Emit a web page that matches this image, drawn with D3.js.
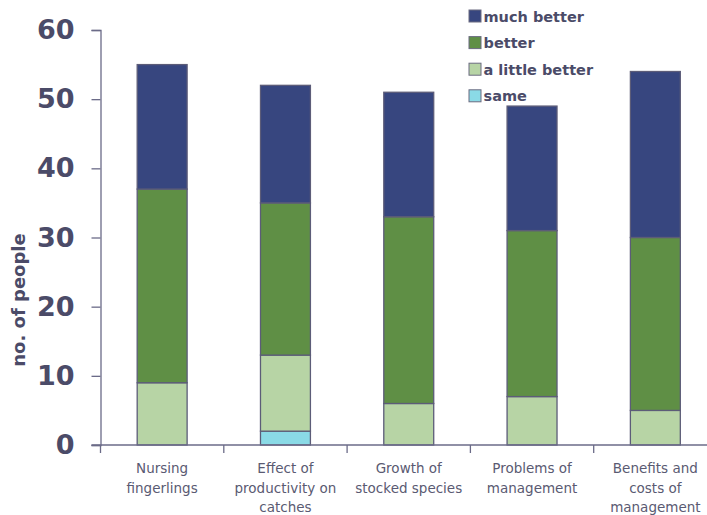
<!DOCTYPE html>
<html><head><meta charset="utf-8">
<script src="https://cdn.jsdelivr.net/npm/d3@7"></script>
<style>body{margin:0;background:#fff;}svg{display:block;}</style>
</head><body>
<svg id="c" width="707" height="515"></svg>
<script>
const categories = [["Nursing","fingerlings"],["Effect of","productivity on","catches"],["Growth of","stocked species"],["Problems of","management"],["Benefits and","costs of","management"]];
const seriesNames = ["same","a little better","better","much better"];
const same = [0, 2, 0, 0, 0];
const littleBetter = [9, 11, 6, 7, 5];
const better = [28, 22, 27, 24, 25];
const muchBetter = [18, 17, 18, 18, 24];
const yTicks = [0,10,20,30,40,50,60];
const colors = {"same":"#8adae6","a little better":"#b7d4a5","better":"#5f8f45","much better":"#37467f"};

(function(){
const svg = d3.select("#c");
const mL = 100.5, mR = 717, mT = 30, mB = 445;
const x = d3.scaleBand().domain(d3.range(categories.length)).range([mL, mR]).padding(0);
const y = d3.scaleLinear().domain([0,60]).range([mB, mT]);
const axisCol = "#6b6b88", textCol = "#4b4b68";

const rows = categories.map((c,i)=>({i, "same":same[i], "a little better":littleBetter[i], "better":better[i], "much better":muchBetter[i]}));
const stack = d3.stack().keys(seriesNames)(rows);
const bw = x.bandwidth()*0.405;

svg.append("g").selectAll("g").data(stack).join("g")
  .attr("fill", d=>colors[d.key])
  .selectAll("rect").data(d=>d.filter(p=>p[1]-p[0]>0)).join("rect")
  .attr("x", d=>x(d.data.i)+x.bandwidth()/2-bw/2)
  .attr("width", bw)
  .attr("y", d=>y(d[1]))
  .attr("height", d=>y(d[0])-y(d[1]))
  .attr("stroke","#5c5c78").attr("stroke-width",1.3);

// y axis
const ya = svg.append("g").attr("transform",`translate(${mL},0)`)
  .call(d3.axisLeft(y).tickValues(yTicks).tickSize(9).tickPadding(17));
ya.select(".domain").attr("stroke",axisCol).attr("stroke-width",1.3);
ya.selectAll(".tick line").attr("stroke",axisCol).attr("stroke-width",1.3);
ya.selectAll("text").attr("fill",textCol).style("font-family","DejaVu Sans, Verdana, sans-serif")
  .style("font-size","27px").style("font-weight","bold");

// x axis
const xa = svg.append("g").attr("transform",`translate(0,${mB})`);
xa.append("line").attr("x1",mL-9).attr("x2",707).attr("y1",0).attr("y2",0).attr("stroke",axisCol).attr("stroke-width",1.3);
const bounds = d3.range(categories.length).map(i=>x(i));
xa.selectAll(".xt").data(bounds).join("line").attr("class","xt")
  .attr("x1",d=>d).attr("x2",d=>d).attr("y1",0).attr("y2",8).attr("stroke",axisCol).attr("stroke-width",1.3);
const lab = xa.selectAll(".xl").data(categories).join("text").attr("class","xl")
  .attr("text-anchor","middle").attr("fill","#5a5a72")
  .style("font-family","DejaVu Sans, Verdana, sans-serif").style("font-size","13.5px");
lab.each(function(d,i){
  const t = d3.select(this);
  d.forEach((ln,j)=>t.append("tspan").attr("x", x(i)+x.bandwidth()/2).attr("y", 28+j*19.5).text(ln));
});

// y title
svg.append("text").attr("transform","translate(25,300) rotate(-90)").attr("text-anchor","middle")
  .attr("fill",textCol).style("font-family","DejaVu Sans, Verdana, sans-serif")
  .style("font-size","18px").style("font-weight","bold").text("no. of people");

// legend
const legendOrder = ["much better","better","a little better","same"];
const lg = svg.append("g").selectAll("g").data(legendOrder).join("g")
  .attr("transform",(d,i)=>`translate(469,${10+i*26.6})`);
lg.append("rect").attr("width",12).attr("height",12).attr("fill",d=>colors[d]).attr("stroke","#6b6b80").attr("stroke-width",1);
lg.append("text").attr("x",14.5).attr("y",11.5).attr("fill",textCol)
  .style("font-family","DejaVu Sans, Verdana, sans-serif").style("font-size","14.5px").style("font-weight","bold")
  .text(d=>d);
})();
</script>
</body></html>
